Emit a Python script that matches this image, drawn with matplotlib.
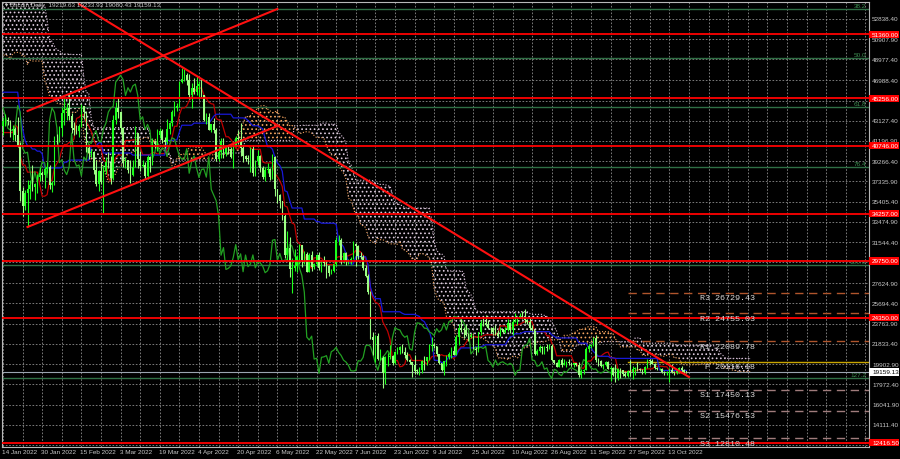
import numpy as np
import pandas as pd
import matplotlib
matplotlib.use("Agg")
import matplotlib.pyplot as plt
import matplotlib.transforms as mtransforms
from matplotlib.patches import Rectangle

# ---- history before the visible window (high, low), only used by the Ichimoku lines
hl_oct21 = [(62400, 58100), (62900, 60200), (62300, 60800), (62400, 60000)]
hl_nov21 = [(62400, 59600), (64300, 60800), (63500, 61000), (63100, 60700), (62600, 60800),
            (61500, 60100), (63300, 61300), (67700, 63200), (68500, 66400), (69000, 63400),
            (65600, 64100), (65400, 62400), (65000, 63400), (65500, 63600), (66300, 63500),
            (63500, 58600), (61000, 58400), (60900, 56500), (58300, 55600), (59800, 57400),
            (60000, 58500), (59300, 55800), (57800, 55500), (57800, 55900), (59300, 56900),
            (59200, 53600), (55200, 53700), (57400, 53300), (58800, 56800), (59200, 56500)]
hl_dec21 = [(59000, 56500), (57500, 55800), (57600, 52000), (53800, 42000), (49700, 47100),
            (51000, 47000), (51900, 50100), (51000, 48600), (50800, 47400), (50000, 47000),
            (49500, 46800), (50700, 48600), (50400, 45700), (48400, 46100), (49500, 46600),
            (49400, 47500), (47900, 45600), (47300, 45900), (48300, 46400), (47500, 45600),
            (49300, 46700), (49500, 48500), (51300, 48100), (51800, 50500), (51200, 50200),
            (51300, 49500), (52000, 50500), (50700, 47400), (48100, 46100), (47900, 46000),
            (48500, 45700)]
hl_jan22_pre = [(47800, 46000), (47900, 46800), (47500, 45800), (47500, 45600), (47000, 42600),
                (43700, 42500), (43100, 40700), (42300, 40500), (42700, 41300), (42200, 39700),
                (43100, 41300), (44300, 42500), (44100, 42400)]
close_before = 42591

# ---- visible daily candles (high, low, close), 14 Jan - 20 Oct 2022
hlc_jan = [(43450, 41750, 43099), (43800, 42600, 43177), (43500, 42700, 43113), (43200, 41600, 42250),
           (42700, 41300, 42375), (42500, 41200, 41744), (43500, 40600, 40680), (41100, 35500, 36457),
           (36800, 34000, 35030), (36500, 34600, 36276), (37500, 32950, 36654), (37500, 35700, 36954),
           (38900, 36400, 36852), (37200, 35600, 37138), (38000, 36200, 37784), (38700, 37400, 38138),
           (38300, 37400, 37917), (38700, 36700, 38483)]
hlc_feb = [(39200, 38100, 38743), (38900, 36600, 36952), (37400, 36300, 37154), (41700, 37000, 41500),
           (41900, 40900, 41441), (42600, 41100, 42412), (44400, 41700, 43840), (45400, 42700, 44118),
           (44800, 43200, 44338), (45800, 43200, 43565), (43900, 42000, 42407), (43000, 41800, 42244),
           (42700, 41900, 42197), (42800, 41600, 42586), (44700, 42500, 44575), (44500, 43300, 43961),
           (44100, 40100, 40538), (40900, 39500, 40030), (40400, 39700, 40122), (40200, 38000, 38431),
           (39400, 36900, 37075), (38400, 36400, 38286), (39200, 37100, 37296), (38900, 34300, 38332),
           (39700, 38000, 39214), (40100, 38600, 39105), (39800, 37100, 37709), (43700, 37500, 43193)]
hlc_mar = [(44900, 42800, 44354), (45400, 43400, 43925), (44100, 41900, 42451), (42500, 38700, 39137),
           (39700, 38600, 39400), (39400, 38100, 38420), (39400, 37200, 37988), (39400, 37900, 38730),
           (42600, 38700, 41941), (42000, 38600, 39439), (40200, 38300, 38794), (39400, 38700, 38904),
           (39200, 37600, 37849), (39900, 37600, 39666), (39800, 38200, 39338), (41500, 38900, 41143),
           (41300, 40500, 40951), (42300, 40200, 41801), (42400, 41500, 42190), (42300, 41000, 41247),
           (41600, 40500, 41077), (43300, 40900, 42358), (43000, 41900, 42892), (44200, 42600, 43960),
           (45000, 43600, 44348), (44800, 44100, 44500), (46900, 44400, 46820), (48200, 46700, 47128),
           (48100, 46900, 47465), (47700, 46500, 47062), (47600, 45200, 45538)]
hlc_apr = [(46700, 44300, 46281), (47200, 45700, 45868), (47400, 45600, 46453), (46900, 45200, 46622),
           (47100, 45400, 45555), (45500, 43100, 43206), (43900, 42800, 43503), (43900, 42200, 42287),
           (42800, 42100, 42782), (43400, 42000, 42207), (42400, 39300, 39521), (40700, 39300, 40127),
           (41500, 39600, 41166), (41500, 39600, 39935), (40800, 39800, 40553), (40700, 40000, 40424),
           (40600, 39600, 39716), (41000, 38600, 40827), (41700, 40600, 41502), (42200, 40900, 41374),
           (42900, 39800, 40527), (40800, 39200, 39740), (39900, 39300, 39478), (39900, 39000, 39469),
           (40600, 38200, 40458), (40800, 37900, 38118), (39400, 37900, 39241), (40300, 38900, 39773),
           (39900, 38200, 38609), (38800, 37600, 37714)]
hlc_may = [(38700, 37400, 38469), (39100, 38100, 38529), (38600, 37500, 37750), (40000, 37600, 39698),
           (39800, 35900, 36575), (36600, 35300, 36040), (36100, 34800, 35501), (35500, 33700, 34059),
           (34200, 30000, 30296), (32600, 29800, 31022), (32000, 28200, 28936), (30000, 26700, 29047),
           (30900, 28800, 29283), (30300, 28700, 30101), (31400, 29500, 31305), (31300, 29200, 29863),
           (30700, 29500, 30425), (30600, 28700, 28720), (30500, 28700, 30314), (30700, 28800, 29201),
           (29600, 29000, 29445), (30400, 29300, 30323), (30600, 28900, 29098), (29800, 28700, 29655),
           (30200, 29300, 29562), (29800, 28100, 29267), (29400, 28300, 28627), (29000, 28500, 28814),
           (29500, 28700, 29445), (32000, 29300, 31726), (32200, 31300, 31792)]
hlc_jun = [(31900, 29500, 29799), (30600, 29600, 30467), (30600, 29400, 29705), (29900, 29500, 29832),
           (30100, 29500, 29906), (31700, 29900, 31370), (31500, 29300, 31155), (31300, 29900, 30214),
           (30600, 29900, 30112), (30300, 28900, 29083), (29400, 28200, 28360), (28500, 26600, 26762),
           (26900, 22300, 22487), (23000, 20800, 22206), (22700, 20100, 22572), (22900, 20300, 20381),
           (21300, 20300, 20471), (20700, 17600, 19017), (20700, 18000, 20553), (21000, 19700, 20599),
           (21700, 20400, 20710), (20800, 19800, 19987), (21200, 19900, 21085), (21500, 20900, 21231),
           (21600, 20900, 21502), (21800, 21000, 21027), (21500, 20500, 20735), (21100, 20200, 20281),
           (20400, 19900, 20105), (20100, 18700, 19785)]
hlc_jul = [(20800, 19000, 19269), (19400, 19000, 19242), (19600, 18900, 19297), (20300, 19100, 20231),
           (20700, 19300, 20190), (20600, 19800, 20548), (21800, 20300, 21637), (22500, 21200, 21731),
           (21900, 21400, 21592), (21600, 20700, 20860), (20900, 19900, 19970), (20000, 19200, 19323),
           (20200, 18900, 20213), (20800, 19700, 20569), (21100, 20400, 20836), (21500, 20500, 21190),
           (21600, 20800, 20779), (22700, 20800, 22485), (23700, 21700, 23389), (24200, 23000, 23231),
           (23400, 22400, 23164), (23700, 22600, 22714), (22900, 22100, 22465), (22900, 22400, 22609),
           (22700, 21300, 21361), (21500, 20800, 21239), (23000, 21100, 22930), (24100, 22700, 23843),
           (24400, 23500, 23804), (24600, 23500, 23656), (24100, 23300, 23336)]
hlc_aug = [(23400, 22900, 23314), (23400, 22700, 22978), (23600, 22700, 22846), (23200, 22500, 22630),
           (23400, 22600, 23289), (23300, 22900, 22961), (23400, 22900, 23175), (24200, 23100, 23810),
           (23900, 22900, 23164), (24200, 22700, 23947), (24800, 23900, 23957), (24400, 23600, 24402),
           (24800, 24300, 24424), (25000, 24200, 24319), (25200, 23800, 24136), (24200, 23700, 23883),
           (24400, 23200, 23335), (23600, 23100, 23212), (23200, 20800, 20877), (21300, 20800, 21166),
           (21700, 21100, 21534), (21600, 20900, 21398), (21600, 20900, 21528), (21800, 21200, 21395),
           (21800, 21300, 21600), (21800, 20200, 20260), (20300, 19900, 20041), (20100, 19600, 19616),
           (20400, 19600, 20297), (20500, 19600, 19796), (20400, 19800, 20050)]
hlc_sep = [(20200, 19600, 20127), (20400, 19800, 19969), (20000, 19700, 19832), (20000, 19600, 19986),
           (20000, 19700, 19812), (20100, 18700, 18837), (19400, 18600, 19290), (19400, 19000, 19330),
           (21500, 19300, 21381), (21800, 21100, 21680), (21800, 21400, 21769), (22500, 21600, 22371),
           (22700, 20100, 20296), (20500, 19700, 20242), (20300, 19600, 19701), (19900, 19400, 19772),
           (20200, 19700, 20127), (20200, 19400, 19420), (19700, 18300, 19545), (19600, 18800, 18891),
           (19900, 18200, 18548), (19500, 18400, 19411), (19500, 18600, 19297), (19300, 18800, 18937),
           (19200, 18700, 18803), (19300, 18700, 19222), (20300, 18800, 19110), (19700, 18500, 19426),
           (19600, 18900, 19573), (20100, 19200, 19431)]
hlc_oct = [(19500, 19200, 19312), (19400, 19000, 19044), (19700, 19000, 19623), (20400, 19500, 20336),
           (20400, 19800, 20160), (20400, 19900, 19955), (20000, 19400, 19546), (19600, 19300, 19417),
           (19500, 19300, 19446), (19500, 19100, 19141), (19200, 18900, 19051), (19200, 18900, 19157),
           (19500, 18200, 19382), (19900, 19100, 19185), (19200, 18900, 19067), (19400, 19000, 19268),
           (19600, 19100, 19550), (19700, 19100, 19334), (19400, 19100, 19139),
           (19233.93, 19080.43, 19159.13)]
last_open = 19219.63

# ---- levels drawn on the chart
red_levels = [51360.00, 45256.00, 40746.00, 34257.00, 29750.00, 24350.00, 12416.50]
fib_labels = ["38.2", "50.0", "61.8", "76.4", "100.0", "127.2"]
fib_levels = [53793, 49117, 44440, 38715, 29363, 18579]
pivot_names = ["R3", "R2", "R1", "P", "S1", "S2", "S3"]
pivot_values = [26729.43, 24755.03, 22089.78, 20116.18, 17450.13, 15476.53, 12810.48]
pivot_start = "2022-09-26"
current_price = 19159.13
price_ticks = [52838.40, 50907.90, 48977.40, 46988.40, 45057.90, 43127.40, 41196.90, 39266.40,
               37335.90, 35405.40, 33474.90, 31544.40, 29613.90, 27624.90, 25694.40, 23763.90,
               21833.40, 19902.90, 17972.40, 16041.90, 14111.40, 12180.90]
# hand drawn trend lines: (date, price) -> (date, price)
trend_lines = [(("2022-02-14", 54270), ("2022-10-21", 18674)),
               (("2022-01-24", 44059), ("2022-05-06", 53793)),
               (("2022-01-24", 32989), ("2022-05-06", 42627))]

# ---- assemble series
day0 = pd.Timestamp("2022-01-14")
pre = hl_oct21 + hl_nov21 + hl_dec21 + hl_jan22_pre
vis = hlc_jan + hlc_feb + hlc_mar + hlc_apr + hlc_may + hlc_jun + hlc_jul + hlc_aug + hlc_sep + hlc_oct
dates = pd.date_range("2021-10-28", periods=len(pre) + len(vis), freq="D")
assert dates[len(pre)] == day0
x_all = np.asarray((dates - day0).days)
high = pd.Series([h for h, _ in pre] + [v[0] for v in vis])
low = pd.Series([l for _, l in pre] + [v[1] for v in vis])

xv = np.arange(len(vis))
c = np.array([v[2] for v in vis], dtype=float)
o = np.concatenate([[close_before], c[:-1]])
o[-1] = last_open
hv = np.array([v[0] for v in vis], dtype=float)
lv = np.array([v[1] for v in vis], dtype=float)

tenkan = (high.rolling(9).max() + low.rolling(9).min()) / 2
kijun = (high.rolling(26).max() + low.rolling(26).min()) / 2
span_a = ((tenkan + kijun) / 2).values
span_b = ((high.rolling(52).max() + low.rolling(52).min()) / 2).values
x_span = x_all + 26


def idx(d):
    return (pd.Timestamp(d) - day0).days


# ---- figure
plt.rcParams["hatch.linewidth"] = 0.7
fig = plt.figure(figsize=(9, 4.6), dpi=100, facecolor="black")
ax = fig.add_axes([2 / 900, 12 / 460, 867 / 900, 445 / 460], facecolor="black")
y_top, y_bot = 54460, 11994
x_left, x_right = -0.41, 353.5
ax.set_xlim(x_left, x_right)
ax.set_ylim(y_bot, y_top)
ax.set_xticks([])
ax.set_yticks([])
for s in ax.spines.values():
    s.set_color("#b8b8b8")
    s.set_linewidth(0.8)

# grid
for gx in range(0, 360, 8):
    ax.axvline(gx, color="#8c8c8c", lw=0.6, ls=(0, (2, 2)), zorder=0)
for gy in price_ticks:
    ax.axhline(gy, color="#8c8c8c", lw=0.6, ls=(0, (2, 2)), zorder=0)

# Ichimoku cloud (dotted fill)
ok = ~np.isnan(span_a) & ~np.isnan(span_b)
xs, a, b = x_span[ok], span_a[ok], span_b[ok]
ax.fill_between(xs, a, b, where=a >= b, interpolate=True, facecolor="none",
                edgecolor="#f4a460", hatch="....", linewidth=0, zorder=1)
ax.fill_between(xs, a, b, where=a < b, interpolate=True, facecolor="none",
                edgecolor="#dccadc", hatch="....", linewidth=0, zorder=1)
ax.plot(xs, a, color="#f4a460", lw=0.8, ls=":", zorder=1)
ax.plot(xs, b, color="#d8bfd8", lw=0.8, ls=":", zorder=1)

# fibo levels
tr = mtransforms.blended_transform_factory(ax.transAxes, ax.transData)
for lab, lev in zip(fib_labels, fib_levels):
    ax.axhline(lev, color="#2f6f45", lw=1.0, zorder=2)
    ax.text((866 - 2) / 867, lev + 60, lab, transform=tr, ha="right", va="bottom",
            fontsize=4.6, color="#3c8c50", family="Liberation Sans")

# current price line
ax.axhline(current_price, color="#9aa4b0", lw=0.8, zorder=2)

# pivot levels
px0 = idx(pivot_start)
for name, val in zip(pivot_names, pivot_values):
    if name == "P":
        ax.plot([px0, x_right], [val, val], color="#c8a400", lw=1.0, zorder=2)
    else:
        col = "#b0552c" if name.startswith("R") else "#a07c7c"
        ax.plot([px0, x_right], [val, val], color=col, lw=1.0, ls=(0, (6, 4)), zorder=2)
    label = (" P" if name == "P" else name) + " " + f"{val:.2f}"
    ax.text(284.5, val - 4.8 * 95.4, label, ha="left", va="center", fontsize=6,
            family="Liberation Mono", color="#d8d8d8", zorder=6)

# Ichimoku lines
vis_sl = slice(len(pre), None)
ax.plot(xv, tenkan.values[vis_sl], color="#c00000", lw=0.9, zorder=3)
ax.plot(xv, kijun.values[vis_sl], color="#1818d8", lw=0.9, zorder=3)
ax.plot(xv[:-26], c[26:], color="#22a022", lw=0.9, zorder=3)

# candles
up = c >= o
body = np.maximum(np.abs(c - o), 60)
for mask, col in ((up, "#1cff1c"), (~up, "#9cff84")):
    ax.vlines(xv[mask], lv[mask], hv[mask], color=col, lw=0.8, zorder=4)
    ax.bar(xv[mask], body[mask], bottom=np.minimum(o, c)[mask], width=0.62,
           color=col, linewidth=0, zorder=4)

# horizontal red levels
for lev in red_levels:
    ax.axhline(lev, color="#ff0000", lw=1.3, zorder=5)

# trend lines
for (d1, p1), (d2, p2) in trend_lines:
    ax.plot([idx(d1), idx(d2)], [p1, p2], color="#ff1010", lw=1.5, zorder=5)

# right price scale (labels hidden under a level box are left out)
ppx = 95.43
for t in price_ticks:
    if min(abs(t - lev) for lev in red_levels) < 3 * ppx:
        continue
    ax.text(1.0035, t, f"{t:.2f}", transform=tr, ha="left", va="center", fontsize=4.6,
            color="#c8c8c8", family="Liberation Sans", clip_on=False)
for lev in red_levels:
    ax.add_patch(Rectangle((1.0, lev - 3.6 * ppx), 30 / 867, 7.2 * ppx, transform=tr,
                           facecolor="#ff0000", edgecolor="none", clip_on=False, zorder=7))
    ax.text(1.0035, lev, f"{lev:.2f}", transform=tr, ha="left", va="center", fontsize=4.6,
            color="white", family="Liberation Sans", clip_on=False, zorder=8)
ax.add_patch(Rectangle((1.0, current_price - 3.6 * ppx), 30 / 867, 7.2 * ppx, transform=tr,
                       facecolor="white", edgecolor="none", clip_on=False, zorder=7))
ax.text(1.0035, current_price, f"{current_price:.2f}", transform=tr, ha="left", va="center",
        fontsize=4.6, color="black", family="Liberation Sans", clip_on=False, zorder=8)

# date scale
trx = mtransforms.blended_transform_factory(ax.transData, ax.transAxes)
for k in range(0, 280, 16):
    d = day0 + pd.Timedelta(days=k)
    ax.text(k - 0.4, -5 / 445, f"{d.day} {d.strftime('%b %Y')}", transform=trx, ha="left",
            va="center", fontsize=4.6, color="#c8c8c8", family="Liberation Sans", clip_on=False)

# header
o_l, h_l, l_l, c_l = last_open, hlc_oct[-1][0], hlc_oct[-1][1], hlc_oct[-1][2]
fig.text(5 / 900, 1 - 6 / 460, f"\u25be Bitcoin,Daily  {o_l:.2f} {h_l:.2f} {l_l:.2f} {c_l:.2f}",
         ha="left", va="center", fontsize=4.6, color="#c8c8c8",
         family=["Liberation Sans", "DejaVu Sans"])

fig.savefig("out.png", dpi=100, facecolor="black")
